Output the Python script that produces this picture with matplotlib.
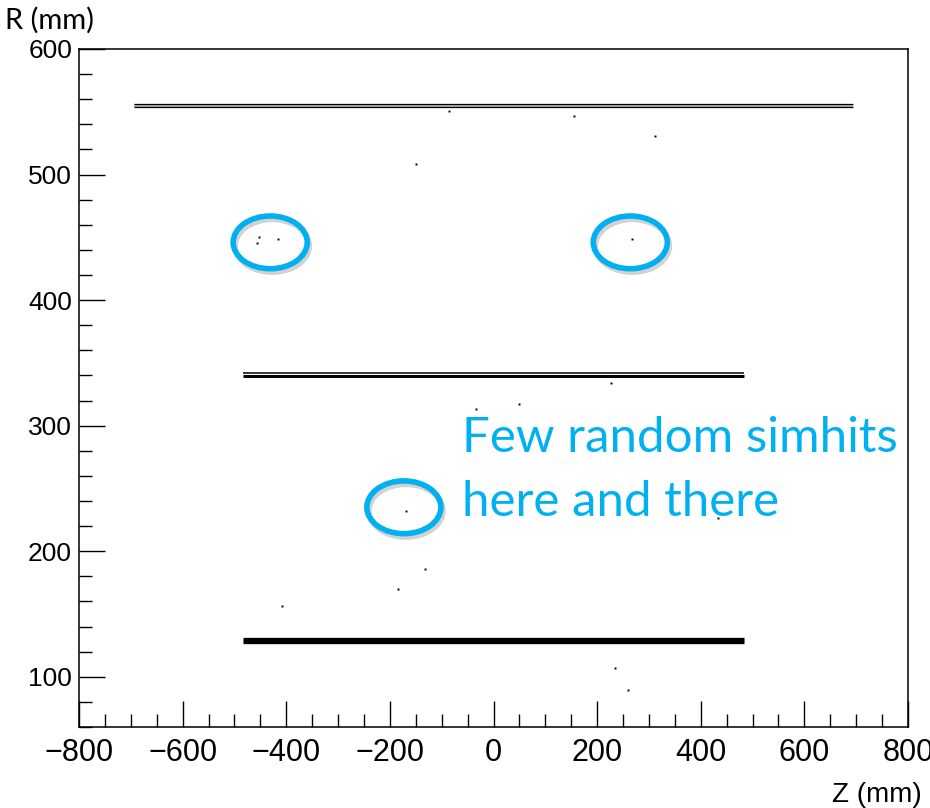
import matplotlib
matplotlib.use("Agg")
import matplotlib.pyplot as plt
from matplotlib.patches import Ellipse
from matplotlib.ticker import MultipleLocator
import matplotlib.patheffects as pe

# Detector layers: radius (mm) and half-length in z (mm)
layer_r = [127.8, 130.2, 339.6, 342.0, 554.1, 556.5]
layer_half_z = [483, 483, 483, 483, 693, 693]
layer_lw = [2.4, 2.4, 2.2, 1.1, 0.9, 0.9]

# Outer barrel double-sided band (filled between its two sensors)
band_r = [554.1, 556.5]
band_half_z = 693

# Stray simhits away from the layers
hit_z = [-85.7, 155.6, 312.0, -148.8, -452.5, -455.8, -416.4, 267.6,
         227.6, -33.6, 50.0, -169.3, 433.0, -133.0, -184.0, -409.0,
         235.0, 259.0]
hit_r = [550.6, 546.9, 531.0, 508.7, 450.1, 445.3, 448.7, 448.7,
         334.3, 313.4, 317.4, 232.4, 226.8, 186.2, 170.1, 156.3,
         107.1, 89.7]

# Highlight rings (centre z, centre R)
ring_z = [-431, 264, -173]
ring_r = [446, 446, 235]

blue = "#00B0F0"

fig = plt.figure(figsize=(9.3, 8.08), dpi=100)
ax = fig.add_axes([79 / 930, 1 - 727 / 808, (908 - 79) / 930, (727 - 49) / 808])

ax.fill_between([-band_half_z, band_half_z], band_r[0], band_r[1],
                color="#b4b4b4", lw=0, zorder=2)
for r, hz, lw in zip(layer_r, layer_half_z, layer_lw):
    ax.hlines(r, -hz, hz, colors="black", linewidth=lw, zorder=3)

ax.plot(hit_z, hit_r, linestyle="none", marker="s", markersize=1.4,
        color="black", markeredgewidth=0, zorder=4)

for z, r in zip(ring_z, ring_r):
    e = Ellipse((z, r), width=143, height=42, fill=False, edgecolor=blue,
                linewidth=4.0, zorder=5, clip_on=False)
    e.set_path_effects([pe.SimpleLineShadow(offset=(1.5, -2.5), shadow_color="gray",
                                            alpha=0.35),
                        pe.Normal()])
    ax.add_patch(e)

ax.set_xlim(-800, 800)
ax.set_ylim(60, 600)
ax.xaxis.set_major_locator(MultipleLocator(200))
ax.xaxis.set_minor_locator(MultipleLocator(50))
ax.yaxis.set_major_locator(MultipleLocator(100))
ax.yaxis.set_minor_locator(MultipleLocator(20))
ax.set_yticks([100, 200, 300, 400, 500, 600])

for s in ax.spines.values():
    s.set_linewidth(1.1)

ax.tick_params(which="both", direction="in", top=False, right=False, width=1.0)
ax.tick_params(which="major", length=19)
ax.tick_params(which="minor", length=9.5)
ax.tick_params(axis="y", pad=5)
ax.tick_params(axis="x", pad=8)

xlabels = ["\u2212800", "\u2212600", "\u2212400", "\u2212200", "0", "200", "400", "600", "800"]
ax.set_xticks(range(-800, 801, 200))
ax.set_xticklabels(xlabels)
for t in ax.get_xticklabels():
    t.set_fontfamily(["Liberation Sans", "DejaVu Sans"])
    t.set_fontsize(22)
for t in ax.get_yticklabels():
    t.set_fontfamily(["Liberation Sans", "DejaVu Sans"])
    t.set_fontsize(19)

fig.text(5 / 930, 1 - 29 / 808, "R (mm)", fontsize=21, family=["Lato", "DejaVu Sans"],
         ha="left", va="baseline")
fig.text(922 / 930, 1 - 802 / 808, "Z (mm)", fontsize=20,
         family=["Liberation Sans", "DejaVu Sans"], ha="right", va="baseline")

fig.text(462 / 930, 1 - 452 / 808, "Few random simhits", fontsize=35.5, color=blue,
         family=["Lato", "DejaVu Sans"], ha="left", va="baseline")
fig.text(462 / 930, 1 - 516 / 808, "here and there", fontsize=35.5, color=blue,
         family=["Lato", "DejaVu Sans"], ha="left", va="baseline")

fig.savefig("out.png", dpi=100, facecolor="white")
